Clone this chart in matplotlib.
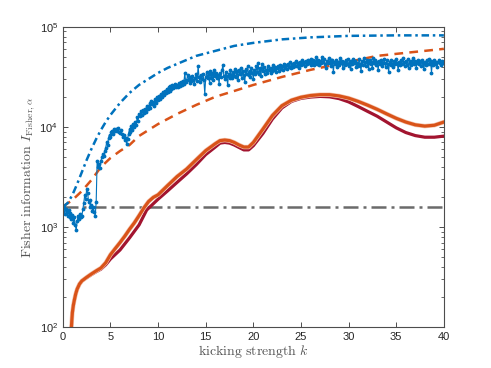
import numpy as np
import matplotlib
matplotlib.use("Agg")
import matplotlib.pyplot as plt
import matplotlib.patheffects as pe
from matplotlib.ticker import LogLocator, NullFormatter

# simulated Fisher information (thousands), k = 0, 0.1, ..., 40
k_sim = np.arange(401) / 10.0
sim_thousands = [
    1.55, 1.6, 1.35, 1.5, 1.42, 1.3, 1.48, 1.25, 1.38, 1.2,
    1.32, 1.1, 1.25, 1.05, 0.93, 1.15, 1.3, 1.2, 1.35, 1.25,
    1.3, 1.5, 1.75, 2.1, 1.9, 2.4, 2.2, 1.8, 1.85, 1.6,
    1.65, 1.45, 1.6, 1.4, 1.3, 1.8, 4.6, 4.0, 4.3, 3.9,
    4.6, 5.0, 5.4, 5.1, 5.8, 6.2, 7.0, 6.6, 7.8, 8.4,
    8.0, 8.9, 9.2, 8.6, 9.5, 9.1, 9.6, 9.2, 9.8, 9.0,
    8.7, 9.3, 8.5, 7.9, 8.3, 7.4, 7.7, 6.7, 7.6, 8.6,
    9.5, 9.0, 10.2, 9.4, 10.8, 10.0, 11.2, 10.4, 12.5, 11.6,
    13.6, 12.8, 14.5, 13.2, 14.9, 13.8, 15.2, 14.0, 16.3, 15.0,
    15.8, 17.2, 15.6, 18.0, 16.9, 17.8, 16.2, 18.9, 17.5, 19.8,
    18.6, 20.4, 19.1, 21.5, 20.0, 22.4, 20.8, 23.0, 21.6, 24.1,
    22.6, 24.9, 23.0, 25.6, 23.8, 26.0, 24.4, 25.2, 27.0, 24.8,
    26.3, 25.0, 27.4, 25.7, 28.2, 26.5, 29.0, 27.1, 34.5, 28.0,
    29.5, 33.0, 30.2, 27.5, 31.8, 28.6, 32.4, 29.4, 26.8, 30.5,
    33.6, 29.0, 40.5, 31.2, 28.0, 33.0, 30.0, 34.2, 29.6, 21.5,
    31.5, 35.4, 30.8, 33.8, 27.6, 36.0, 31.0, 34.4, 29.2, 37.2,
    32.0, 35.0, 30.5, 33.2, 27.0, 34.6, 31.4, 36.8, 41.5, 32.6,
    30.0, 35.8, 32.2, 26.2, 34.0, 31.0, 37.5, 33.0, 30.6, 35.2,
    32.4, 38.0, 31.8, 36.2, 29.4, 37.0, 33.6, 39.2, 30.8, 36.6,
    33.4, 28.4, 37.8, 34.2, 40.2, 32.8, 36.4, 31.6, 38.4, 34.8,
    30.4, 37.4, 33.8, 41.0, 35.6, 43.5, 34.0, 38.8, 32.2, 42.6,
    36.0, 39.6, 33.6, 37.2, 35.0, 40.4, 36.8, 38.2, 34.6, 39.0,
    36.4, 41.2, 37.0, 39.8, 35.8, 38.6, 40.6, 36.6, 42.0, 38.0,
    40.2, 37.4, 43.0, 39.2, 41.4, 37.8, 42.6, 39.4, 44.6, 40.0,
    38.4, 42.8, 39.6, 44.0, 41.0, 45.6, 40.4, 43.2, 38.8, 44.4,
    41.8, 46.2, 42.2, 44.8, 40.8, 45.2, 42.4, 47.0, 43.4, 45.8,
    41.6, 48.0, 43.8, 46.4, 42.0, 44.2, 49.5, 43.0, 46.8, 41.2,
    45.4, 43.6, 50.5, 44.6, 47.6, 42.6, 39.0, 46.0, 44.0, 48.4,
    43.2, 46.6, 40.6, 47.2, 35.2, 44.8, 42.4, 46.2, 39.4, 45.0,
    41.8, 48.6, 43.4, 45.6, 38.6, 44.2, 41.4, 46.8, 42.8, 47.4,
    40.8, 44.6, 37.6, 45.2, 42.2, 48.2, 43.8, 46.0, 39.8, 44.0,
    41.0, 47.8, 43.0, 36.4, 45.8, 42.0, 48.8, 44.4, 40.2, 46.4,
    43.6, 38.2, 47.0, 42.6, 45.0, 39.0, 49.2, 43.4, 46.6, 41.6,
    44.8, 37.0, 45.4, 42.8, 47.2, 40.6, 44.0, 48.0, 43.2, 39.6,
    46.2, 42.4, 35.6, 44.6, 41.2, 46.8, 43.0, 40.0, 45.6, 42.2,
    47.6, 43.8, 36.8, 45.0, 41.8, 46.4, 42.6, 48.4, 44.2, 40.4,
    45.8, 42.0, 47.4, 38.8, 44.8, 41.4, 46.0, 43.4, 48.8, 42.8,
    45.2, 39.2, 44.0, 47.0, 42.2, 45.6, 41.0, 46.6, 43.6, 37.8,
    44.4, 41.6, 46.2, 42.4, 47.8, 43.0, 45.4, 35.0, 44.6, 41.2,
    46.8, 42.6, 45.0, 40.0, 44.2, 47.2, 43.8, 41.4, 45.8, 43.2,
    44.6,
]

# upper bound (blue dash-dot)
k_bound = [0, 0.5, 1, 1.5, 2, 2.5, 3, 3.5, 4, 4.5, 5, 5.5, 6, 6.5, 7, 7.5, 8, 9, 10,
           11, 12, 13, 14, 16, 18, 20, 23, 26, 30, 35, 40]
bound = [1585, 1738, 2089, 2692, 3548, 4677, 6026, 7586, 9333, 11220, 13183, 15136,
         17378, 19498, 21878, 23988, 26303, 30200, 34674, 38905, 42658, 46774, 51286,
         57544, 64565, 69183, 74989, 78524, 81283, 82224, 82224]

# orange dashed
k_dash = [0, 1, 2, 3, 4, 5, 6, 7, 8, 10, 12, 14, 16, 18, 20, 23, 26, 30, 33, 36, 40]
dash = [1600, 1860, 2290, 2950, 3980, 4900, 5750, 6610, 8130, 10700, 13500,
        16600, 20000, 22900, 26300, 31600, 37200, 44700, 51300, 55000, 60300]

# orange solid
k_orange = [0.9, 0.95, 1.0, 1.1, 1.2, 1.35, 1.5, 1.75, 2.0, 2.5, 3.0, 3.5, 4.0, 4.5,
            5.0, 5.5, 6.0, 6.5, 7.0, 7.5, 8.0, 8.5, 9.0, 9.5, 10, 11, 12, 13, 14, 15,
            16, 16.5, 17, 17.5, 18, 18.5, 19, 19.5, 20, 21, 22, 23, 24, 25, 26, 27,
            28, 29, 30, 31, 32, 33, 34, 35, 36, 37, 38, 39, 40]
orange = [100, 120, 140, 165, 185, 215, 240, 270, 290, 315, 340, 365, 390, 440, 530,
          610, 700, 810, 950, 1100, 1300, 1550, 1800, 1980, 2100, 2600, 3200, 3800,
          4700, 5800, 6800, 7300, 7400, 7300, 7000, 6600, 6300, 6300, 7000, 9500,
          13000, 16300, 18500, 19800, 20600, 21000, 21000, 20400, 19400, 18000, 16500,
          15000, 13500, 12200, 11200, 10500, 10200, 10400, 11200]

# dark red solid
k_red = [0.9, 0.95, 1.0, 1.1, 1.2, 1.35, 1.5, 1.75, 2.0, 2.5, 3.0, 3.5, 4.0, 4.5, 5.0,
         6.0, 7.0, 8.0, 8.8, 10, 11, 12, 13, 14, 15, 16, 16.5, 17, 17.5, 18, 19, 19.5,
         20, 21, 22, 23, 24, 25, 26, 27, 28, 29, 30, 31, 32, 33, 34, 35, 36, 37, 38,
         39, 40]
red = [100, 120, 140, 165, 185, 215, 240, 270, 290, 312, 335, 358, 380, 420, 480, 590,
       780, 1050, 1480, 1900, 2300, 2800, 3400, 4200, 5300, 6300, 6900, 7000, 6900,
       6600, 5900, 5900, 6500, 8600, 12000, 15500, 18000, 19300, 19900, 20200, 20000,
       19200, 17800, 16000, 14300, 12800, 11200, 9800, 8800, 8200, 7900, 7900, 8100]

# classical reference level
ref_level = 1590

blue = "#0072BD"
orange_c = "#D95319"
red_c = "#A2142F"

plt.rcParams["mathtext.fontset"] = "cm"
fig = plt.figure(figsize=(4.91, 3.68), dpi=100)
ax = fig.add_axes([0.128, 0.111, 0.776, 0.816])

ax.plot([0, 40], [ref_level, ref_level], color="#6b6b6b", lw=1.8,
        dashes=(6, 2, 1.2, 2))
ax.plot(k_red, red, color=red_c, lw=2.3, solid_capstyle="round")
ax.plot(k_orange, orange, color=orange_c, lw=2.3, solid_capstyle="round",
        path_effects=[pe.Stroke(linewidth=3.2, foreground="#f4c6b0"), pe.Normal()])
ax.plot(k_dash, dash, color=orange_c, lw=1.8, dashes=(3.5, 2.5))
ax.plot(k_sim, np.array(sim_thousands) * 1000, color=blue, lw=0.8,
        marker=".", ms=3.5)
ax.plot(k_bound, bound, color=blue, lw=1.8, dashes=(3, 1.5, 1, 1.5))

ax.set_yscale("log")
ax.set_xlim(0, 40)
ax.set_ylim(100, 1e5)
ax.set_xticks(range(0, 41, 5))
ax.yaxis.set_major_locator(LogLocator(base=10, numticks=10))
ax.yaxis.set_minor_locator(LogLocator(base=10, subs=np.arange(2, 10), numticks=10))
ax.yaxis.set_minor_formatter(NullFormatter())

for s in ax.spines.values():
    s.set_color("#4d4d4d")
    s.set_linewidth(0.8)
ax.tick_params(which="both", direction="in", top=True, right=True,
               colors="#4d4d4d", labelcolor="#262626", labelsize=8)
ax.tick_params(which="major", length=3.5, width=0.7)
ax.tick_params(which="minor", length=2, width=0.6)
for lab in ax.get_xticklabels() + ax.get_yticklabels():
    lab.set_fontfamily("Liberation Sans")

ax.set_xlabel(r"$\mathrm{kicking\ strength}\ k$", fontsize=10, color="#555555",
              labelpad=1)
ax.set_ylabel(r"$\mathrm{Fisher\ information}\ I_{\mathrm{Fisher},\alpha}$",
              fontsize=10, color="#555555", labelpad=2)

fig.savefig("out.png", dpi=100)
